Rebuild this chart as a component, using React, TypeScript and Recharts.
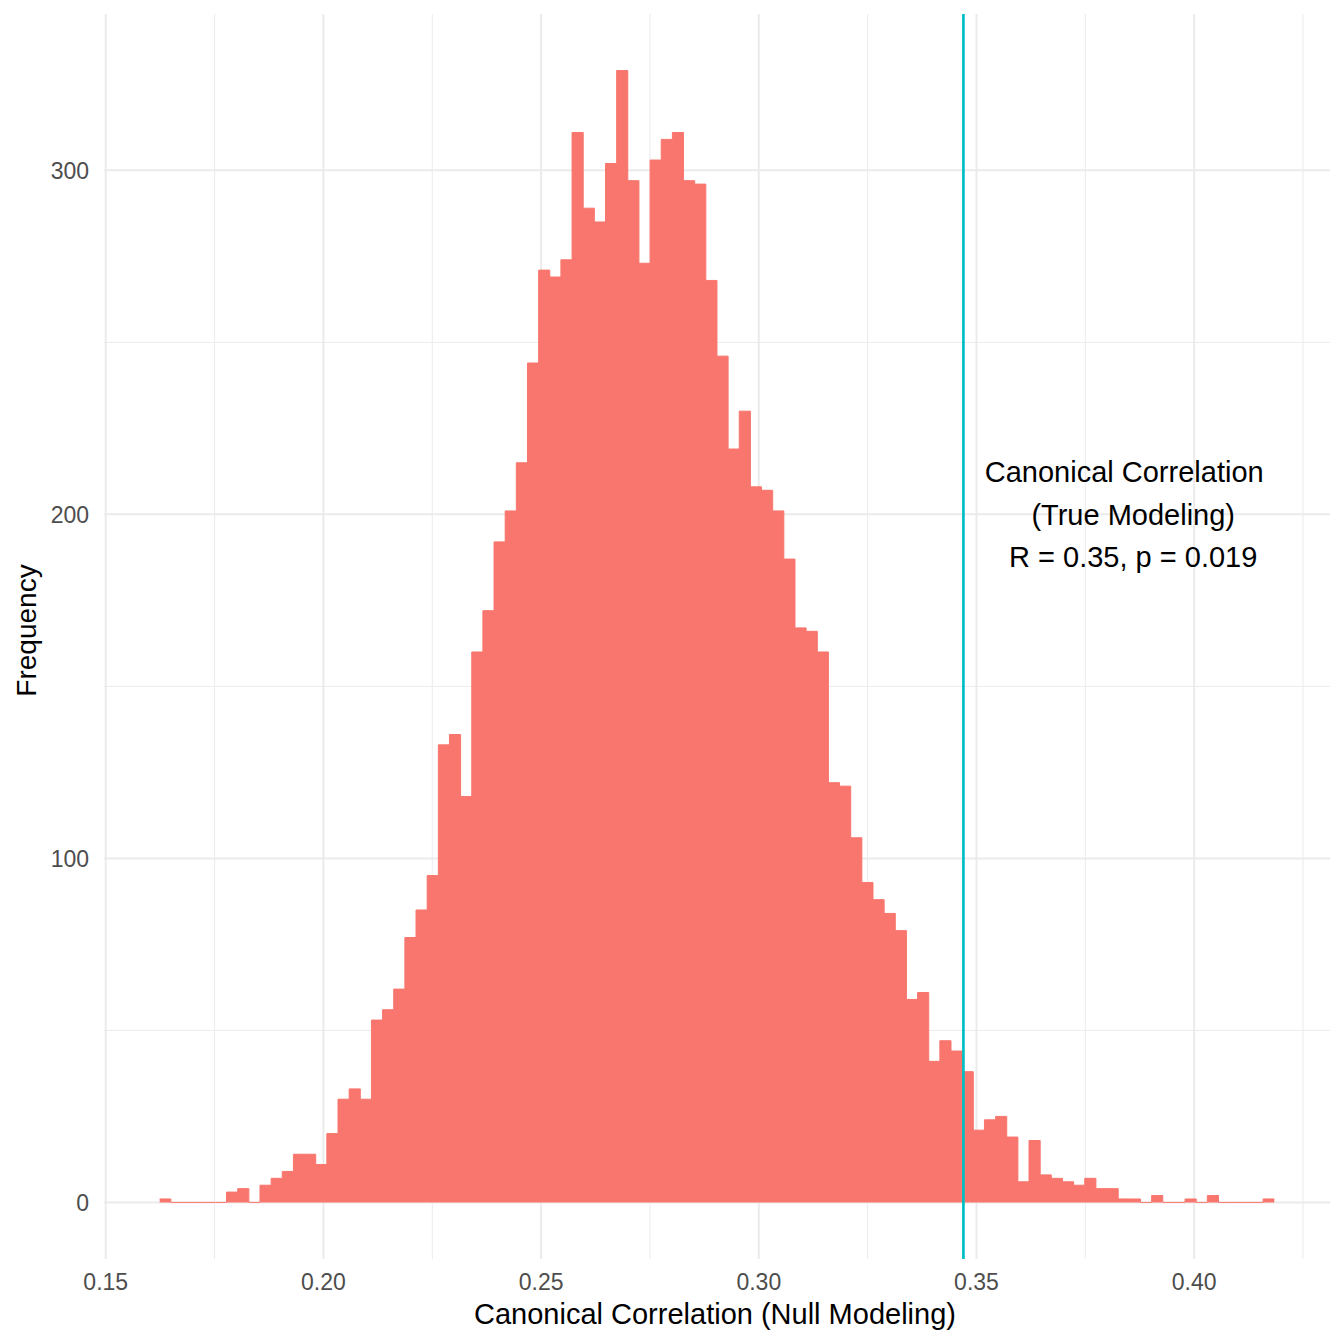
import {
  ComposedChart,
  Area,
  XAxis,
  YAxis,
  CartesianGrid,
  ReferenceLine,
  ReferenceDot,
  Label,
} from "recharts";

// histogram of null-model canonical correlations, 100 equal bins
const binStart = 0.16239;
const binWidth = 0.00256;
const binCounts = [
  1, 0, 0, 0, 0, 0, 3, 4, 0, 5,
  7, 9, 14, 14, 11, 20, 30, 33, 30, 53,
  56, 62, 77, 85, 95, 133, 136, 118, 160, 172,
  192, 201, 215, 244, 271, 269, 274, 311, 289, 285,
  302, 329, 297, 273, 303, 309, 311, 297, 296, 268,
  246, 219, 230, 208, 207, 201, 187, 167, 166, 160,
  122, 121, 106, 93, 88, 84, 79, 59, 61, 41,
  47, 44, 38, 21, 24, 25, 19, 6, 18, 8,
  7, 6, 5, 7, 4, 4, 1, 1, 0, 2,
  0, 0, 1, 0, 2, 0, 0, 0, 0, 1,
];

const xTicks = [0.15, 0.2, 0.25, 0.3, 0.35, 0.4];
const xMinorTicks = [0.175, 0.225, 0.275, 0.325, 0.375, 0.425];
const yTicks = [0, 100, 200, 300];
const yMinorTicks = [50, 150, 250];

const trueR = 0.347;
const noteX = 0.386;
const noteY = 200;
const noteLines = ["Canonical Correlation", "(True Modeling)", "R = 0.35, p = 0.019"];

const xTitle = "Canonical Correlation (Null Modeling)";
const yTitle = "Frequency";

// step area needs the left edge of every bin plus the closing right edge
const rows = binCounts.map((count, i) => ({ x: binStart + i * binWidth, count }));
rows.push({
  x: binStart + binCounts.length * binWidth,
  count: binCounts[binCounts.length - 1],
});

const FONT = "'Liberation Sans', Arial, Helvetica, sans-serif";
const GRID = "#EBEBEB";
const FILL = "#F8766D";

const applyScale = (scale: any, v: number) =>
  typeof scale === "function" ? scale(v) : scale?.map ? scale.map(v) : NaN;

export default function App() {
  return (
    <div style={{ position: "absolute", left: 0, top: 0, background: "#fff" }}>
      <ComposedChart
        width={1344}
        height={1344}
        data={rows}
        margin={{ top: 14, right: 14, bottom: 0, left: 0 }}
        style={{ fontFamily: FONT }}
      >
        {/* minor grid */}
        <CartesianGrid
          stroke={GRID}
          strokeWidth={1}
          verticalCoordinatesGenerator={({ xAxis }: any) =>
            xAxis?.scale ? xMinorTicks.map((v) => applyScale(xAxis.scale, v)) : []
          }
          horizontalCoordinatesGenerator={({ yAxis }: any) =>
            yAxis?.scale ? yMinorTicks.map((v) => applyScale(yAxis.scale, v)) : []
          }
        />
        {/* major grid, only at the tick values */}
        <CartesianGrid stroke={GRID} strokeWidth={2} syncWithTicks />
        <XAxis
          type="number"
          dataKey="x"
          domain={[0.1496, 0.4312]}
          ticks={xTicks}
          tickFormatter={(v: number) => v.toFixed(2)}
          allowDataOverflow
          axisLine={false}
          tickLine={false}
          tickMargin={9}
          height={85}
          tick={{ fill: "#4D4D4D", fontSize: 23 }}
        >
          <Label
            content={({ viewBox }: any) => (
              <text
                x={viewBox.x + viewBox.width / 2 - 2}
                y={viewBox.y + 65}
                textAnchor="middle"
                fontSize={29}
                fill="#000"
                fontFamily={FONT}
              >
                {xTitle}
              </text>
            )}
          />
        </XAxis>
        <YAxis
          type="number"
          domain={[-16.45, 345.45]}
          ticks={yTicks}
          allowDataOverflow
          axisLine={false}
          tickLine={false}
          tickMargin={9}
          width={104}
          tick={{ fill: "#4D4D4D", fontSize: 23 }}
        >
          <Label
            content={({ viewBox }: any) => {
              const cx = 36;
              const cy = viewBox.y + viewBox.height / 2 - 6;
              return (
                <text
                  x={cx}
                  y={cy}
                  transform={`rotate(-90, ${cx}, ${cy})`}
                  textAnchor="middle"
                  fontSize={28}
                  fill="#000"
                  fontFamily={FONT}
                >
                  {yTitle}
                </text>
              );
            }}
          />
        </YAxis>
        <Area
          type="stepAfter"
          dataKey="count"
          baseValue={0}
          fill={FILL}
          fillOpacity={1}
          stroke={FILL}
          strokeWidth={1}
          dot={false}
          activeDot={false}
          isAnimationActive={false}
        />
        <ReferenceLine x={trueR} stroke="#00BFC4" strokeWidth={2.7} />
        <ReferenceDot
          x={noteX}
          y={noteY}
          r={0}
          fill="none"
          stroke="none"
          label={{
            content: ({ viewBox }: any) => {
              const cx = viewBox.x + (viewBox.width || 0) / 2;
              const cy = viewBox.y + (viewBox.height || 0) / 2;
              return (
                <g>
                  {noteLines.map((line, i) => (
                    <text
                      key={line}
                      x={cx + (i === 0 ? -9 : 0)}
                      y={cy + 10.4 + (i - 1) * 42.5}
                      textAnchor="middle"
                      fontSize={29}
                      fill="#000"
                      fontFamily={FONT}
                    >
                      {line}
                    </text>
                  ))}
                </g>
              );
            },
          }}
        />
      </ComposedChart>
    </div>
  );
}
